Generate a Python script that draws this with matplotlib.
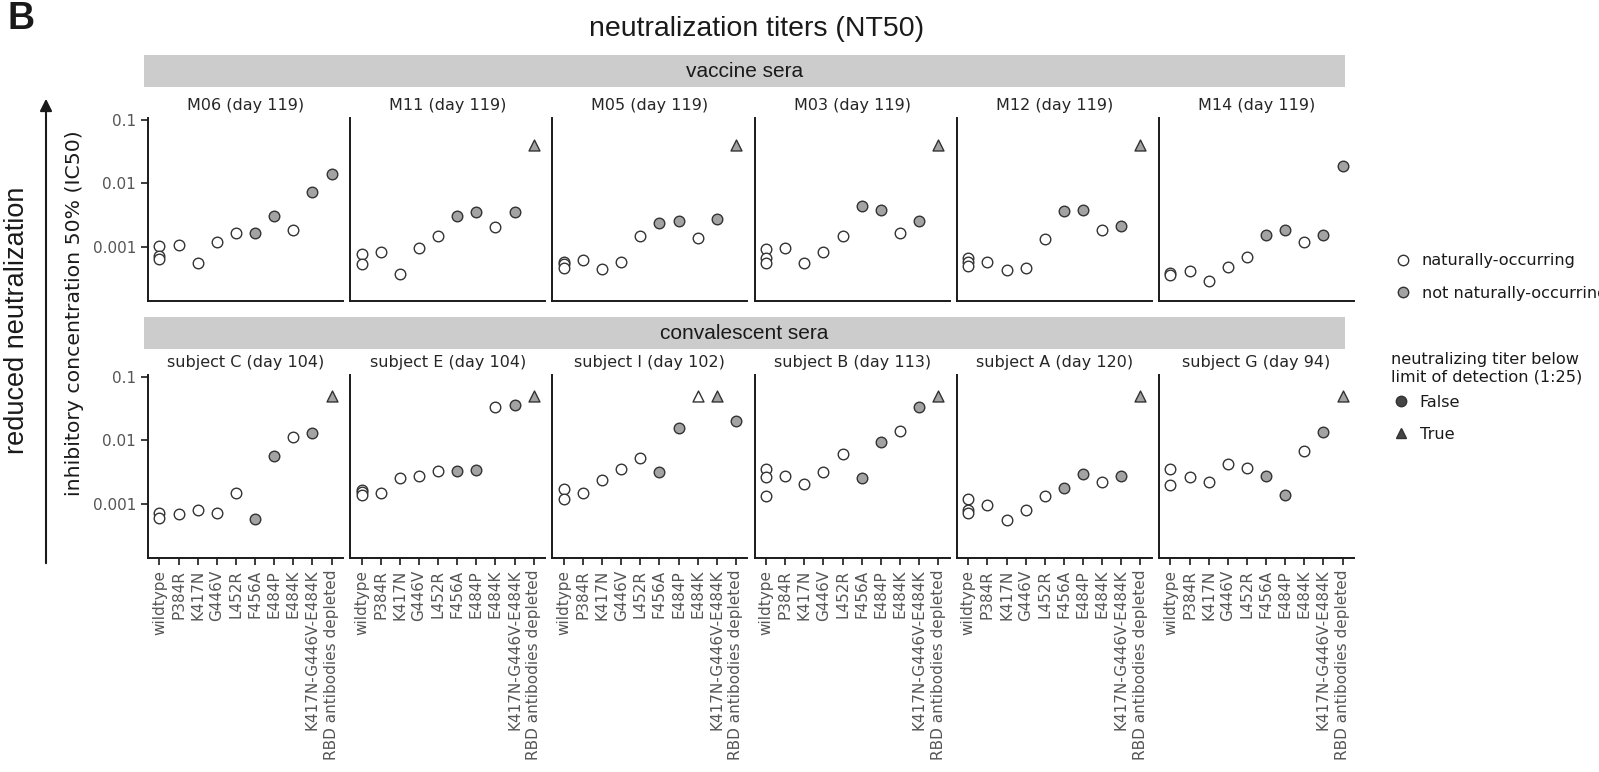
import numpy as np
import pandas as pd
import matplotlib
matplotlib.use("Agg")
import matplotlib.pyplot as plt
import matplotlib.patches as mpatches
from matplotlib.lines import Line2D

mutants = ["wildtype", "P384R", "K417N", "G446V", "L452R", "F456A",
           "E484P", "E484K", "K417N-G446V-E484K", "RBD antibodies depleted"]
natural = [True, True, True, True, True, False, False, True, False, False]

vaccine_sera = ["M06 (day 119)", "M11 (day 119)", "M05 (day 119)",
                "M03 (day 119)", "M12 (day 119)", "M14 (day 119)"]
convalescent_sera = ["subject C (day 104)", "subject E (day 104)", "subject I (day 102)",
                     "subject B (day 113)", "subject A (day 120)", "subject G (day 94)"]

# IC50 per mutant, same order as `mutants`; wildtype has replicates.
# None = titer below limit of detection, drawn at the limit.
ic50_M06 = [[1.04e-3, 0.72e-3, 0.64e-3], 1.08e-3, 0.55e-3, 1.2e-3, 1.65e-3, 1.65e-3, 3.1e-3, 1.84e-3, 7.3e-3, 0.0139]
ic50_M11 = [[0.77e-3, 0.53e-3], 0.82e-3, 0.37e-3, 0.96e-3, 1.48e-3, 3.03e-3, 3.5e-3, 2.05e-3, 3.5e-3, None]
ic50_M05 = [[0.58e-3, 0.53e-3, 0.47e-3], 0.62e-3, 0.45e-3, 0.58e-3, 1.46e-3, 2.35e-3, 2.59e-3, 1.36e-3, 2.75e-3, None]
ic50_M03 = [[0.92e-3, 0.66e-3, 0.56e-3], 0.95e-3, 0.557e-3, 0.84e-3, 1.48e-3, 4.37e-3, 3.87e-3, 1.67e-3, 2.59e-3, None]
ic50_M12 = [[0.66e-3, 0.58e-3, 0.5e-3], 0.585e-3, 0.43e-3, 0.47e-3, 1.31e-3, 3.64e-3, 3.82e-3, 1.82e-3, 2.13e-3, None]
ic50_M14 = [[0.38e-3, 0.355e-3], 0.41e-3, 0.29e-3, 0.48e-3, 0.69e-3, 1.51e-3, 1.86e-3, 1.19e-3, 1.53e-3, 0.0188]

ic50_C = [[0.72e-3, 0.6e-3], 0.68e-3, 0.81e-3, 0.72e-3, 1.47e-3, 0.58e-3, 5.7e-3, 0.0113, 0.0132, None]
ic50_E = [[1.68e-3, 1.55e-3, 1.4e-3], 1.49e-3, 2.57e-3, 2.77e-3, 3.32e-3, 3.24e-3, 3.4e-3, 0.034, 0.0366, None]
ic50_I = [[1.72e-3, 1.2e-3], 1.49e-3, 2.33e-3, 3.57e-3, 5.26e-3, 3.12e-3, 0.0157, None, None, 0.0202]
ic50_B = [[3.57e-3, 2.64e-3, 1.35e-3], 2.77e-3, 2.04e-3, 3.2e-3, 6.08e-3, 2.57e-3, 9.3e-3, 0.014, 0.034, None]
ic50_A = [[1.17e-3, 0.785e-3, 0.72e-3], 0.965e-3, 0.56e-3, 0.8e-3, 1.35e-3, 1.79e-3, 2.94e-3, 2.22e-3, 2.73e-3, None]
ic50_G = [[3.48e-3, 1.95e-3], 2.64e-3, 2.22e-3, 4.23e-3, 3.66e-3, 2.73e-3, 1.4e-3, 6.87e-3, 0.0137, None]

lod_vaccine = 0.04
lod_convalescent = 0.05

rows = [
    ("vaccine sera", vaccine_sera, [ic50_M06, ic50_M11, ic50_M05, ic50_M03, ic50_M12, ic50_M14], lod_vaccine),
    ("convalescent sera", convalescent_sera, [ic50_C, ic50_E, ic50_I, ic50_B, ic50_A, ic50_G], lod_convalescent),
]

# long-format table
records = []
for group, sera, vals, lod in rows:
    for serum, v in zip(sera, vals):
        for i, m in enumerate(mutants):
            reps = v[i] if isinstance(v[i], list) else [v[i]]
            for r in reps:
                records.append(dict(group=group, serum=serum, mutant=m, x=i,
                                    natural=natural[i], below_lod=r is None,
                                    ic50=lod if r is None else r))
df = pd.DataFrame(records)

W, H = 1599, 772
fig = plt.figure(figsize=(W / 100, H / 100), dpi=100)


def box(left, top, width, height):
    return [left / W, 1 - (top + height) / H, width / W, height / H]


FILL_NAT = "white"
FILL_NOT = "#a3a3a3"
EDGE = "#333333"
TICKCOL = "#555555"

panel_left0, panel_step, panel_w = 148, 202.2, 195
row_tops = [118, 375]
row_h = 183
strip_tops = [55, 317]

for r, (group, sera, vals, lod) in enumerate(rows):
    # grey strip with the group name
    sax = fig.add_axes(box(144, strip_tops[r], 1201, 32))
    sax.set_facecolor("#cccccc")
    sax.set_xticks([])
    sax.set_yticks([])
    for s in sax.spines.values():
        s.set_visible(False)
    sax.text(0.5, 0.47, group, ha="center", va="center", fontsize=15,
             family="Liberation Sans", color="#1a1a1a", transform=sax.transAxes)

    for c, serum in enumerate(sera):
        ax = fig.add_axes(box(panel_left0 + c * panel_step, row_tops[r], panel_w, row_h))
        sub = df[df.serum == serum]
        for (nat, below), g in sub.groupby(["natural", "below_lod"]):
            ax.scatter(g.x, g.ic50, s=58 if not below else 62,
                       marker="^" if below else "o",
                       facecolor=FILL_NAT if nat else FILL_NOT,
                       edgecolor=EDGE, linewidth=1.0, zorder=3)
        ax.set_yscale("log")
        ax.set_ylim(1.4e-4, 0.107)
        ax.set_xlim(-0.6, 9.6)
        ax.minorticks_off()
        for side in ["top", "right"]:
            ax.spines[side].set_visible(False)
        for side in ["left", "bottom"]:
            ax.spines[side].set_linewidth(1.4)
            ax.spines[side].set_color("#1a1a1a")
        ax.set_title(serum, fontsize=11.5, color="#262626", pad=6)
        ax.tick_params(colors="#1a1a1a", labelcolor=TICKCOL, labelsize=11,
                       length=5, width=1.2)
        if c == 0:
            ax.set_yticks([0.001, 0.01, 0.1])
            ax.set_yticklabels(["0.001", "0.01", "0.1"])
        else:
            ax.set_yticks([])
        if r == 1:
            ax.set_xticks(range(len(mutants)))
            ax.set_xticklabels(mutants, rotation=90)
        else:
            ax.set_xticks([])

fig.text(757 / W, 1 - 29 / H, "neutralization titers (NT50)", ha="center", va="center",
         fontsize=20.5, family="Liberation Sans", color="#1a1a1a")
fig.text(8 / W, 1 - 19 / H, "B", ha="left", va="center", fontsize=27,
         fontweight="bold", family="Liberation Sans", color="#1a1a1a")

fig.text(75 / W, 1 - 313 / H, "inhibitory concentration 50% (IC50)", rotation=90,
         ha="center", va="center", fontsize=14.7, color="#1a1a1a")
fig.text(17 / W, 1 - 320 / H, "reduced neutralization", rotation=90,
         ha="center", va="center", fontsize=19.5, family="Liberation Sans", color="#1a1a1a")
fig.add_artist(mpatches.FancyArrowPatch((46 / W, 1 - 566 / H), (46 / W, 1 - 96 / H),
                                        transform=fig.transFigure, arrowstyle="-|>",
                                        mutation_scale=18, lw=1.5, color="#1a1a1a"))

h_nat = [Line2D([], [], ls="", marker="o", ms=7.5, mfc=FILL_NAT, mec=EDGE, mew=1.0),
         Line2D([], [], ls="", marker="o", ms=7.5, mfc=FILL_NOT, mec=EDGE, mew=1.0)]
leg1 = fig.legend(h_nat, ["naturally-occurring", "not naturally-occurring"],
                  loc="upper left", bbox_to_anchor=(1387 / W, 1 - 247 / H),
                  frameon=False, fontsize=11.6, labelspacing=1.08, handletextpad=0.55,
                  handlelength=1.2, borderaxespad=0)
h_lod = [Line2D([], [], ls="", marker="o", ms=7.5, mfc="#454545", mec="#333333"),
         Line2D([], [], ls="", marker="^", ms=7.5, mfc="#454545", mec="#333333")]
leg2 = fig.legend(h_lod, ["False", "True"], title="neutralizing titer below\nlimit of detection (1:25)",
                  loc="upper left", bbox_to_anchor=(1385 / W, 1 - 346 / H),
                  frameon=False, fontsize=11.6, title_fontsize=11.6, labelspacing=1.08,
                  handletextpad=0.55, handlelength=1.2, borderaxespad=0, alignment="left")
leg2._legend_box.sep = 7
for t in list(leg1.get_texts()) + list(leg2.get_texts()) + [leg2.get_title()]:
    t.set_color("#1a1a1a")

fig.savefig("out.png", dpi=100)
